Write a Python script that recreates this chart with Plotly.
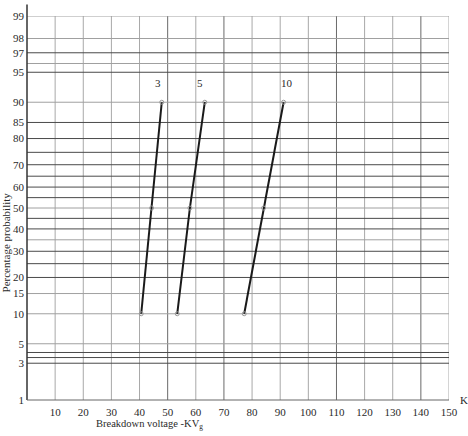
import plotly.graph_objects as go
from statistics import NormalDist

# ---- data ----
probabilities = [10, 50, 90]
series_names = ["3", "5", "10"]
voltage_3 = [40.6, 44.3, 47.9]
voltage_5 = [53.4, 57.9, 63.2]
voltage_10 = [77.2, 84.1, 91.2]

y_tick_labels = [1, 3, 5, 10, 15, 20, 30, 40, 50, 60, 70, 80, 85, 90, 95, 97, 98, 99]
grid_dark = [3, 3.5, 4, 20, 25, 30, 40, 45, 55, 60, 65, 70, 75, 80, 85, 95, 97]
grid_light = [5, 10, 15, 35, 50, 90, 96, 98, 99]
x_ticks = list(range(10, 151, 10))
x_dark = [50, 70, 110, 140]

nd = NormalDist()
def z(p):
    return nd.inv_cdf(p / 100.0)

FONT = "Liberation Serif"
TXT = "#2a2a2a"
fig = go.Figure()

shapes = []
for xv in x_ticks:
    col = "#6a6a6a" if xv in x_dark else "#a8a8a8"
    shapes.append(dict(type="line", xref="x", yref="paper", x0=xv, x1=xv, y0=0, y1=1,
                       line=dict(color=col, width=1), layer="below"))
for p in grid_light:
    shapes.append(dict(type="line", xref="paper", yref="y", x0=0, x1=1, y0=z(p), y1=z(p),
                       line=dict(color="#a0a0a0", width=1), layer="below"))
for p in grid_dark:
    shapes.append(dict(type="line", xref="paper", yref="y", x0=0, x1=1, y0=z(p), y1=z(p),
                       line=dict(color="#4a4a4a", width=1), layer="below"))
# left axis line and bottom line
shapes.append(dict(type="line", xref="paper", yref="paper", x0=0, x1=0, y0=0, y1=1.03,
                   line=dict(color="#333", width=1.5)))
shapes.append(dict(type="line", xref="paper", yref="paper", x0=0, x1=1, y0=0, y1=0,
                   line=dict(color="#666", width=1)))

series = [voltage_3, voltage_5, voltage_10]
label_shift = [-4, -5, 3]
annotations = []
for name, xs, sh in zip(series_names, series, label_shift):
    fig.add_trace(go.Scatter(
        x=xs, y=[z(p) for p in probabilities], mode="lines+markers",
        line=dict(color="#1a1a1a", width=2),
        marker=dict(symbol="circle-open", size=4, color="#999", line=dict(width=1)),
        showlegend=False, name=name))
    annotations.append(dict(x=xs[-1], y=z(probabilities[-1]), xref="x", yref="y",
                            text=name, showarrow=False, xshift=sh, yshift=19,
                            xanchor="center", yanchor="middle",
                            font=dict(family=FONT, size=11, color=TXT)))

annotations.append(dict(x=0.29, y=-0.064, xref="paper", yref="paper",
                        xanchor="center", yanchor="middle",
                        text="Breakdown voltage -KV<sub>g</sub>", showarrow=False,
                        font=dict(family=FONT, size=10.5, color=TXT)))
annotations.append(dict(x=1.035, y=0.0, xref="paper", yref="paper", text="K",
                        xanchor="center", yanchor="middle",
                        showarrow=False, font=dict(family=FONT, size=11, color=TXT)))
annotations.append(dict(x=-0.05, y=0.41, xref="paper", yref="paper",
                        xanchor="center", yanchor="middle",
                        text="Percentage probability", textangle=-90, showarrow=False,
                        font=dict(family=FONT, size=11, color=TXT)))

fig.update_layout(
    width=468, height=436,
    margin=dict(l=27, r=17, t=10, b=36),
    paper_bgcolor="white", plot_bgcolor="white",
    shapes=shapes, annotations=annotations,
    xaxis=dict(range=[0, 150], tickvals=x_ticks, ticktext=[str(v) for v in x_ticks],
               showgrid=False, zeroline=False, showline=False, ticks="",
               ticklabelstandoff=4,
               tickfont=dict(family=FONT, size=11, color=TXT)),
    yaxis=dict(range=[z(1), z(99)], tickvals=[z(p) for p in y_tick_labels],
               ticktext=[str(p) for p in y_tick_labels],
               showgrid=False, zeroline=False, showline=False, ticks="",
               ticklabelstandoff=2,
               tickfont=dict(family=FONT, size=11, color=TXT)),
)

fig.write_html("out.html")
